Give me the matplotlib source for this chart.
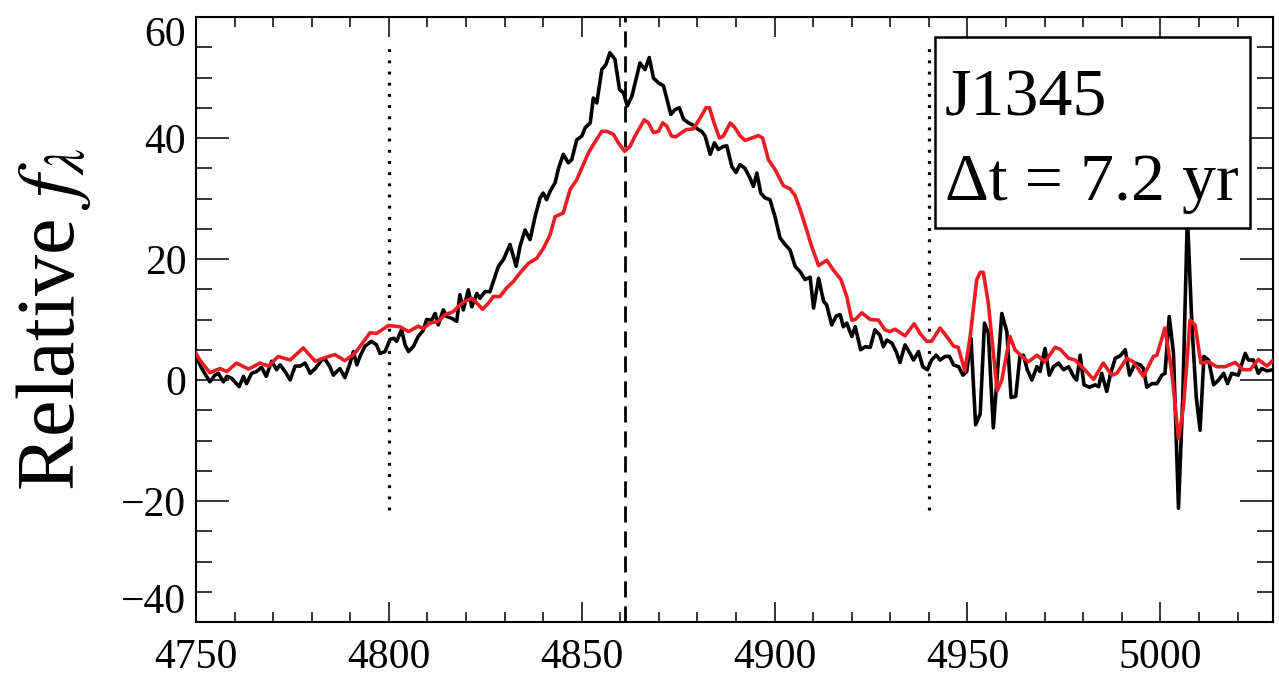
import matplotlib
matplotlib.use("Agg")
import matplotlib.pyplot as plt
from matplotlib.patches import Rectangle
from matplotlib.ticker import MultipleLocator

plt.rcParams['font.family'] = ['Liberation Serif', 'DejaVu Serif']
plt.rcParams['mathtext.fontset'] = 'stix'

# black spectrum (earlier epoch)
black_wave = [4750.0, 4751.5, 4753.6, 4754.9, 4755.8, 4757.1, 4758.0, 4759.2, 4761.2, 4762.3,
              4763.1, 4764.4, 4765.7, 4767.0, 4768.2, 4769.6, 4770.9, 4771.8, 4773.1, 4774.4,
              4775.7, 4777.0, 4778.3, 4779.6, 4780.9, 4782.6, 4783.4, 4784.7, 4785.6, 4786.5,
              4787.3, 4788.6, 4789.8, 4790.8, 4791.7, 4792.5, 4793.8, 4795.5, 4796.8, 4797.7,
              4799.0, 4800.3, 4801.3, 4802.0, 4803.3, 4804.2, 4805.1, 4806.4, 4807.6,
              4808.9, 4809.8, 4811.1, 4812.0, 4812.8, 4814.1, 4815.0, 4816.3, 4817.6, 4818.4,
              4819.3, 4820.6, 4821.5, 4822.8, 4823.6, 4824.9, 4826.2, 4827.5, 4828.4, 4829.7,
              4831.4, 4833.0, 4834.0, 4835.3, 4836.6, 4837.9, 4839.2, 4840.0, 4840.9, 4841.8,
              4843.1, 4843.9, 4845.2, 4846.5, 4847.4, 4848.7, 4850.0, 4850.9, 4852.2, 4853.0,
              4853.9, 4855.2, 4856.3, 4857.3, 4858.6, 4859.8, 4860.8, 4861.8, 4863.0,
              4865.1, 4866.4, 4867.5, 4868.6, 4869.9, 4871.2, 4872.0, 4873.1, 4874.2, 4875.3,
              4876.4, 4877.7, 4878.9, 4880.2, 4881.1, 4882.0, 4883.3, 4884.4, 4885.4, 4886.7,
              4887.6, 4888.9, 4890.0, 4891.0, 4892.3, 4893.6, 4894.5, 4895.4, 4896.4, 4897.5,
              4898.8, 4900.1, 4901.4, 4902.7, 4904.0, 4905.3, 4906.6, 4907.9, 4909.2, 4910.1,
              4911.4, 4912.7, 4913.5,
              4914.8, 4916.0, 4917.0, 4917.8, 4918.7, 4920.0, 4920.9, 4922.3, 4923.5, 4924.8,
              4926.0, 4927.3, 4928.2, 4929.1, 4930.4, 4931.5, 4932.5, 4933.8, 4935.1, 4936.0,
              4937.3, 4938.4, 4939.6, 4940.7, 4941.9, 4942.9, 4944.2, 4945.3, 4946.4, 4947.7,
              4948.8, 4949.8, 4950.9, 4952.1, 4953.3, 4954.4, 4955.4, 4956.7, 4958.9,
              4960.2, 4961.3, 4962.5, 4963.6, 4964.5, 4965.5, 4966.7, 4968.0, 4968.8, 4970.1,
              4971.2, 4972.3, 4973.6, 4974.9, 4976.2, 4977.5, 4978.3, 4979.2, 4980.2, 4981.6,
              4983.1, 4984.0, 4984.8, 4986.1, 4987.0, 4988.3, 4989.6, 4990.9, 4992.0, 4993.5,
              4994.8, 4995.6, 4996.5, 4997.8, 4999.1, 5000.4, 5001.2, 5002.3, 5003.4, 5004.7,
              5005.8, 5007.0, 5008.2, 5009.3, 5010.3, 5011.3, 5012.5, 5013.8, 5015.1, 5016.4,
              5017.4, 5018.5, 5020.2, 5022.0, 5022.8, 5024.1, 5025.4, 5026.3, 5027.6, 5029.3,
              5031.0]
black_flux = [3.9, 1.9, -0.3, 0.8, 1.1, -0.3, 0.6, 0.3, -1.1, 0.6,
              -0.6, 1.1, 1.4, 2.1, 0.6, 3.1, 1.7, 2.5, 1.4, 0.0,
              2.3, 2.3, 2.8, 1.1, 1.9, 3.3, 3.5, 2.2, 0.8, 1.4,
              1.9, 0.4, 2.5, 4.7, 2.5, 3.9, 5.6, 6.4, 5.8, 4.4,
              4.7, 6.7, 6.9, 6.4, 8.3, 5.8, 4.7, 5.6, 7.2,
              8.2, 10.0, 9.9, 11.0, 9.1, 11.6, 10.5, 10.2, 9.7, 14.1,
              11.6, 14.9, 12.1, 14.3, 13.5, 14.6, 14.6, 17.1, 18.8, 19.9,
              22.4, 18.8, 22.1, 24.8, 23.2, 27.0, 30.1, 30.9, 29.8, 31.2,
              32.6, 34.8, 37.3, 35.9, 36.4, 39.7, 40.3, 41.7, 42.5, 46.6,
              45.8, 51.3, 52.2, 54.1, 53.0, 48.0, 47.5, 45.3, 46.9,
              52.4, 51.3, 53.3, 49.9, 49.1, 48.6, 46.6, 43.9, 44.7, 45.0,
              43.1, 42.5, 42.1, 41.4, 41.1, 40.3, 37.3, 39.2, 38.1, 38.6,
              38.7, 35.3, 34.3, 35.6, 35.0, 33.4, 32.0, 34.2, 30.9, 30.1,
              29.8, 27.0, 23.5, 22.4, 21.5, 18.8, 17.9, 16.6, 17.0, 11.9,
              16.8, 13.0, 12.4,
              9.1, 10.6, 10.8, 8.8, 9.4, 7.2, 8.8, 5.0, 5.5, 5.4,
              8.3, 7.4, 5.5, 6.6, 6.1, 4.7, 2.9, 5.8, 4.4, 3.3,
              4.7, 2.2, 1.7, 3.3, 4.1, 3.3, 3.9, 3.9, 2.5, 2.2,
              0.8, 1.4, 6.9, -7.4, -5.6, 9.4, 7.8, -7.9, 11.0,
              8.0, -2.9, -2.7, 3.9, 4.1, 1.7, 0.0, 2.2, 1.4, 5.2,
              0.8, 2.2, 2.8, 1.7, 2.2, 0.6, 0.0, 4.1, -0.8, -1.2,
              -0.8, -1.1, 1.1, -1.9, 0.8, 3.6, 4.0, 5.0, 0.8, 2.8,
              2.5, 1.9, -1.2, -0.6, -0.6, 0.8, 1.1, 10.5, 4.4, -21.2,
              -3.0, 27.0, 8.8, -2.8, -8.3, 3.9, 3.3, -0.8, 0.0, 1.1,
              -0.6, 1.1, 0.8, 4.4, 3.3, 3.3, 1.1, 1.9, 1.5, 1.7,
              1.7]

# red spectrum (later epoch)
red_wave = [4750.0, 4751.0, 4753.6, 4756.2, 4758.0, 4760.5, 4763.6, 4766.6, 4768.8, 4771.3,
            4774.4, 4777.8, 4780.9, 4783.9, 4786.0, 4788.6, 4791.2, 4795.1, 4796.8, 4799.9,
            4802.9, 4805.1,
            4807.6, 4808.9, 4810.7, 4812.8, 4814.6, 4816.7, 4818.4, 4819.7, 4821.5, 4822.8,
            4824.3, 4825.8, 4827.1, 4828.8, 4830.5, 4832.3, 4834.0, 4836.2, 4838.3, 4840.1,
            4841.8, 4843.1, 4845.2, 4847.0, 4848.7, 4850.4, 4851.7, 4853.0, 4855.2, 4856.5,
            4858.2, 4859.5, 4861.1, 4862.5,
            4863.8, 4866.2, 4867.3, 4868.6, 4869.9, 4871.0, 4872.0, 4873.3, 4874.4, 4875.9,
            4877.2, 4878.9, 4880.7, 4882.2, 4883.1, 4884.3, 4885.7, 4886.7, 4888.5, 4889.7,
            4891.0, 4892.3, 4894.1, 4895.8, 4896.9, 4898.4, 4900.1, 4902.3, 4904.0, 4905.3,
            4906.6, 4908.3, 4909.6, 4911.4, 4913.5, 4915.2, 4917.2,
            4918.7, 4920.0, 4920.9, 4922.6, 4924.8, 4926.9, 4928.6, 4929.9, 4931.2, 4933.8,
            4936.2, 4937.7, 4939.4, 4940.7, 4942.9, 4944.6, 4946.4, 4947.6, 4949.3, 4950.7,
            4952.4, 4953.3, 4954.1, 4955.4, 4957.7,
            4958.9, 4961.0, 4962.3, 4964.1, 4965.8, 4968.0, 4970.1, 4972.7, 4974.0, 4976.2,
            4977.9, 4980.1, 4982.7, 4985.2, 4987.4, 4988.7, 4991.3, 4993.0, 4995.6, 4998.2,
            4999.1, 5001.2, 5003.0, 5004.7, 5006.0, 5007.7, 5009.0, 5010.5, 5012.5, 5014.6,
            5016.8, 5019.4, 5021.5, 5023.3, 5025.4, 5027.6, 5029.3, 5031.0]
red_flux = [4.4, 3.3, 1.2, 1.9, 1.4, 2.8, 1.8, 2.8, 2.3, 3.9,
            3.3, 5.3, 3.1, 3.8, 4.2, 3.2, 4.4, 7.8, 7.7, 9.0,
            8.8, 8.0,
            8.9, 8.5, 9.4, 9.7, 10.8, 11.3, 12.4, 13.0, 13.5, 12.7,
            11.7, 12.7, 13.8, 13.8, 15.2, 16.3, 17.7, 19.3, 20.1, 21.8,
            24.0, 27.0, 27.6, 31.5, 33.1, 35.6, 37.5, 38.9, 41.1, 41.1,
            40.6, 39.2, 37.8, 38.6,
            40.3, 43.0, 42.5, 40.9, 41.1, 42.5, 42.0, 40.3, 40.2, 40.9,
            41.4, 41.5, 43.3, 45.0, 45.0, 42.5, 40.0, 40.3, 42.5, 41.7,
            40.4, 39.6, 40.0, 40.4, 40.0, 36.4, 34.8, 32.1, 31.6, 30.5,
            28.2, 24.8, 22.1, 18.9, 19.8, 18.2, 16.6,
            13.8, 9.9, 10.0, 11.1, 10.0, 9.9, 8.3, 8.0, 8.4, 7.3,
            9.3, 7.7, 6.4, 6.4, 8.6, 7.2, 5.6, 5.4, 1.5, 7.2,
            16.6, 17.8, 17.8, 12.7, -1.8,
            0.0, 7.2, 5.0, 3.9, 3.0, 4.1, 3.0, 5.4, 5.1, 3.6,
            3.3, 1.9, 0.1, 2.8, 0.8, 1.1, 3.6, 3.0, 0.6, 3.9,
            4.1, 8.6, 1.1, -9.7, -4.4, 9.9, 9.1, 2.8, 3.0, 2.2,
            2.2, 2.9, 1.7, 1.7, 3.4, 2.3, 3.3, 2.8]

window_edges = [4800, 4940]
line_center = 4861.3
yticks = [-40, -20, 0, 20, 40, 60]
ytick_labels = ['\u221240', '\u221220', '0', '20', '40', '60']
xticks = [4750, 4800, 4850, 4900, 4950, 5000]

fig = plt.figure(figsize=(12.79, 6.82), dpi=100)
ax = fig.add_axes([196 / 1279, 1 - 622 / 682, 1077 / 1279, 605 / 682])

ax.plot(black_wave, black_flux, color='black', lw=2.6, zorder=3)
ax.plot(red_wave, red_flux, color='#ec1c24', lw=2.6, zorder=4)

for w in window_edges:
    ax.plot([w, w], [-21.5, 54.8], color='black', lw=2.3,
            linestyle=(0, (0.9, 2.6)), zorder=2)
ax.axvline(line_center, color='black', lw=2.0, linestyle=(0, (5.8, 3.2)), zorder=2)

ax.set_xlim(4750, 5029.2)
ax.set_ylim(-40, 60)

ax.set_xticks(xticks)
ax.xaxis.set_minor_locator(MultipleLocator(10))
ax.set_yticks(yticks, ytick_labels)
ax.yaxis.set_minor_locator(MultipleLocator(5))
for t in ax.get_yticklabels():
    if t.get_text() == '60':
        t.set_va('top')
    elif t.get_text() == '\u221240':
        t.set_va('bottom')

ax.tick_params(which='both', direction='in', top=True, right=True, labelsize=30, width=1.1)
ax.tick_params(axis='x', which='major', length=14.5, pad=12)
ax.tick_params(axis='x', which='minor', length=7.5)
ax.tick_params(axis='y', which='major', length=23.5, pad=7)
ax.tick_params(axis='y', which='minor', length=11.5)
for s in ax.spines.values():
    s.set_linewidth(1.5)

ax.set_ylabel('Relative $f_\\lambda$', fontsize=59, labelpad=20)

box = Rectangle((0.686, 0.651), 0.293, 0.316, transform=ax.transAxes,
                facecolor='white', edgecolor='black', lw=1.8, zorder=6)
ax.add_patch(box)
ax.text(0.695, 0.838, 'J1345', transform=ax.transAxes, fontsize=49,
        ha='left', va='baseline', zorder=7)
ax.text(0.695, 0.698, '\u0394t = 7.2 yr', transform=ax.transAxes, fontsize=49,
        ha='left', va='baseline', zorder=7)

fig.savefig('out.png', dpi=100)
